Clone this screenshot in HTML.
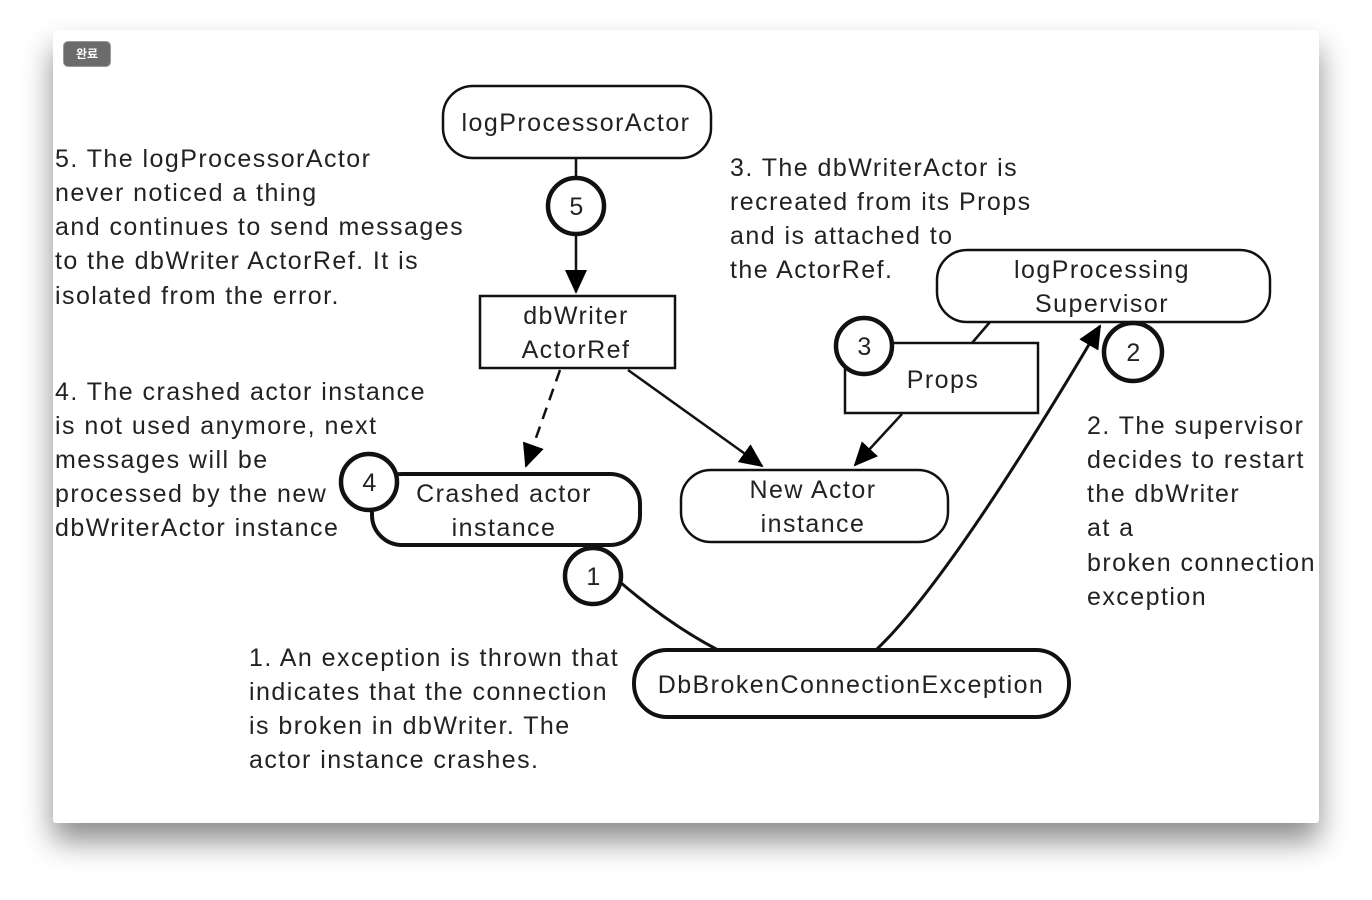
<!DOCTYPE html>
<html><head><meta charset="utf-8"><style>
html,body{margin:0;padding:0;background:#fff;width:1372px;height:900px;overflow:hidden}
.card{position:absolute;left:53px;top:30px;width:1266px;height:793px;background:#fff;box-shadow:0 18px 30px rgba(0,0,0,0.45);border-radius:3px}
.btn{position:absolute;left:63px;top:41px;width:46px;height:24px;background:#6b6b6b;border:1px solid #999;border-radius:5px;color:#fff;font:bold 12px "Liberation Sans","Noto Sans CJK KR",sans-serif;text-align:center;line-height:24px}
svg{position:absolute;left:0;top:0}
text{font-family:"Liberation Sans",sans-serif;font-size:25px;fill:#222;letter-spacing:1.45px}
</style></head><body>
<div class="card"></div>
<div class="btn">완료</div>
<svg width="1372" height="900" viewBox="0 0 1372 900">
<defs>
<marker id="b" markerWidth="24" markerHeight="22" refX="22" refY="11" orient="auto" markerUnits="userSpaceOnUse" viewBox="0 0 24 22"><path d="M0,0 L24,11 L0,22z" fill="#000"/></marker></defs>
<g fill="none" stroke="#111">
<line x1="576" y1="158" x2="576" y2="292" stroke-width="2.5" marker-end="url(#b)"/>
<line x1="560" y1="370" x2="526" y2="466" stroke-width="2.5" stroke-dasharray="12,8" marker-end="url(#b)"/>
<line x1="628" y1="370" x2="762" y2="466" stroke-width="2.5" marker-end="url(#b)"/>
<line x1="902" y1="414" x2="855" y2="465" stroke-width="2.5" marker-end="url(#b)"/>
<line x1="990" y1="322" x2="972" y2="343" stroke-width="2.5"/>
<path d="M620,582 Q670,625 718,650" stroke-width="3"/>
<path d="M876,650 Q950,580 1100,326" stroke-width="3" marker-end="url(#b)"/>
<rect x="443" y="86" width="268" height="72" rx="30" fill="#fff" stroke-width="2.5"/>
<rect x="480" y="296" width="195" height="72" fill="#fff" stroke-width="2.5"/>
<rect x="372" y="474" width="268" height="71" rx="30" fill="#fff" stroke-width="4"/>
<rect x="681" y="470" width="267" height="72" rx="30" fill="#fff" stroke-width="2.5"/>
<rect x="845" y="343" width="193" height="70" fill="#fff" stroke-width="2.5"/>
<rect x="937" y="250" width="333" height="72" rx="30" fill="#fff" stroke-width="2.5"/>
<rect x="634" y="650" width="435" height="67" rx="33" fill="#fff" stroke-width="4"/>
<circle cx="576" cy="206" r="28" fill="#fff" stroke-width="4.5"/>
<circle cx="369" cy="482" r="28" fill="#fff" stroke-width="4.5"/>
<circle cx="864" cy="346" r="28" fill="#fff" stroke-width="4.5"/>
<circle cx="1133" cy="352" r="29" fill="#fff" stroke-width="4.5"/>
<circle cx="593" cy="576" r="28" fill="#fff" stroke-width="4.5"/>
</g>
<g text-anchor="middle">
<text x="576" y="131">logProcessorActor</text>
<text x="577" y="215">5</text>
<text x="576" y="324">dbWriter</text><text x="576" y="358">ActorRef</text>
<text x="370" y="491">4</text>
<text x="504" y="502">Crashed actor</text><text x="504" y="536">instance</text>
<text x="813" y="498">New Actor</text><text x="813" y="532">instance</text>
<text x="865" y="355">3</text>
<text x="943" y="388">Props</text>
<text x="1102" y="278">logProcessing</text><text x="1102" y="312">Supervisor</text>
<text x="1134" y="361">2</text>
<text x="594" y="585">1</text>
<text x="851" y="693">DbBrokenConnectionException</text>
</g>
<g>
<text x="55" y="167">5. The logProcessorActor</text>
<text x="55" y="201">never noticed a thing</text>
<text x="55" y="235">and continues to send messages</text>
<text x="55" y="269">to the dbWriter ActorRef. It is</text>
<text x="55" y="304">isolated from the error.</text>
<text x="55" y="400">4. The crashed actor instance</text>
<text x="55" y="434">is not used anymore, next</text>
<text x="55" y="468">messages will be</text>
<text x="55" y="502">processed by the new</text>
<text x="55" y="536">dbWriterActor instance</text>
<text x="730" y="176">3. The dbWriterActor is</text>
<text x="730" y="210">recreated from its Props</text>
<text x="730" y="244">and is attached to</text>
<text x="730" y="278">the ActorRef.</text>
<text x="1087" y="434">2. The supervisor</text>
<text x="1087" y="468">decides to restart</text>
<text x="1087" y="502">the dbWriter</text>
<text x="1087" y="536">at a</text>
<text x="1087" y="571">broken connection</text>
<text x="1087" y="605">exception</text>
<text x="249" y="666">1. An exception is thrown that</text>
<text x="249" y="700">indicates that the connection</text>
<text x="249" y="734">is broken in dbWriter. The</text>
<text x="249" y="768">actor instance crashes.</text>
</g>
</svg>
</body></html>
